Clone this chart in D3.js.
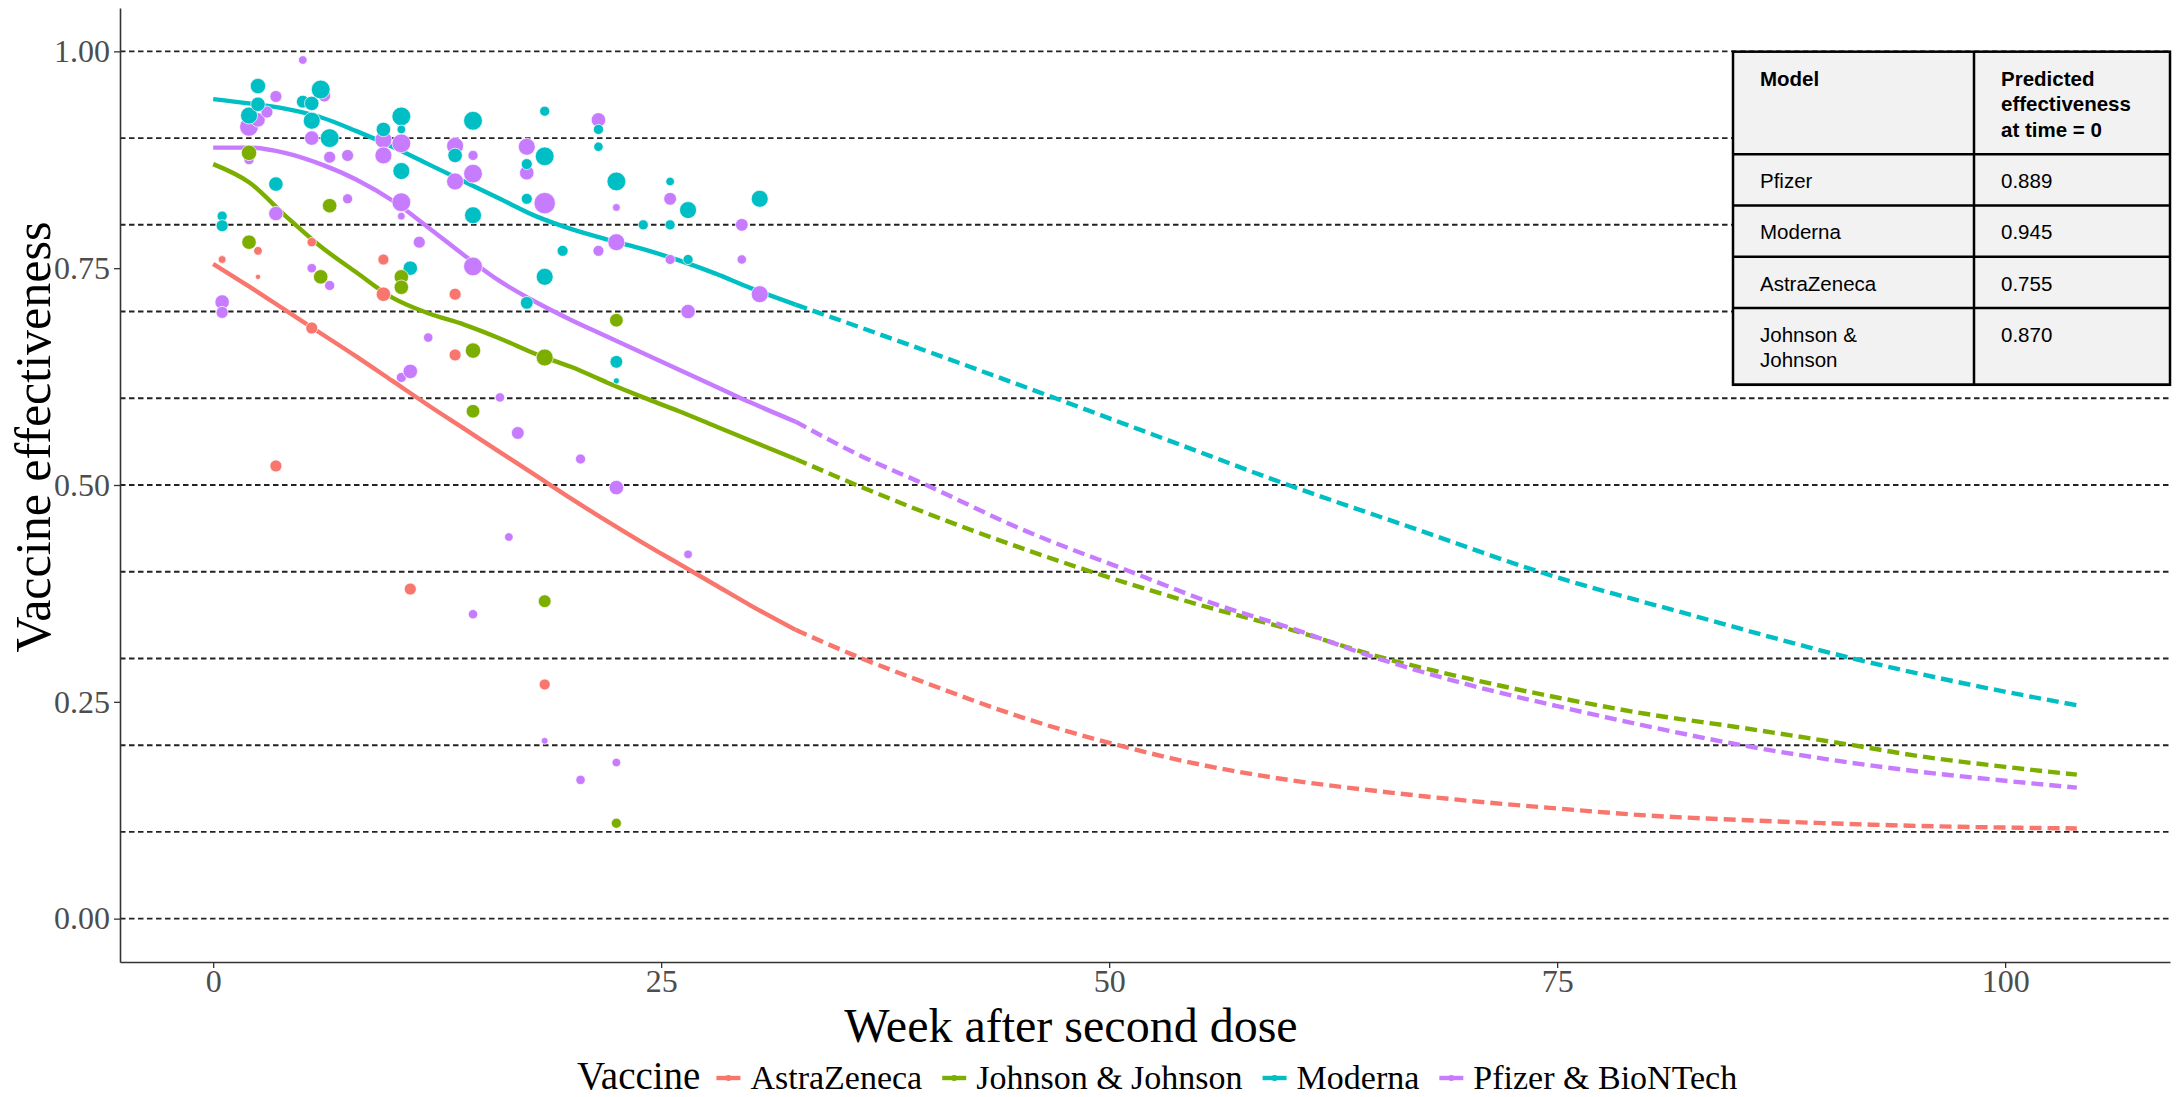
<!DOCTYPE html>
<html>
<head>
<meta charset="utf-8">
<script src="https://cdn.jsdelivr.net/npm/d3@7"></script>
<style>
  body { margin: 0; background: #fff; }
  svg { display: block; }
</style>
</head>
<body>
<svg id="chart" width="2182" height="1097"></svg>
<script>
const vaccines = ["AstraZeneca", "Johnson & Johnson", "Moderna", "Pfizer & BioNTech"];
const vaccineColors = ["#F8766D", "#7CAE00", "#00BFC4", "#C77CFF"];

// observed estimates: [week, effectiveness, study weight]
const astraPoints = [
  [0.5,0.760,13],[2.5,0.770,16],[2.5,0.740,6],[5.5,0.780,19],[5.5,0.681,31],[9.5,0.760,26],
  [9.5,0.720,45],[13.5,0.720,31],[13.5,0.650,31],[3.5,0.522,31],[11,0.380,31],[18.5,0.270,26]
];
const jjPoints = [
  [2,0.883,51],[6.5,0.822,45],[2,0.780,45],[6,0.740,45],[10.5,0.740,45],[10.5,0.728,45],
  [14.5,0.655,51],[18.5,0.647,62],[22.5,0.690,40],[14.5,0.585,40],[18.5,0.366,35],[22.5,0.110,22]
];
const modernaPoints = [
  [2.5,0.960,51],[2,0.926,62],[2.5,0.939,45],[5,0.942,35],[5.5,0.940,45],[6,0.956,76],
  [5.5,0.920,62],[6.5,0.900,76],[0.5,0.810,22],[0.5,0.799,31],[3.5,0.847,45],[9.5,0.910,45],
  [10.5,0.925,76],[10.5,0.910,16],[10.5,0.862,62],[11,0.750,45],[14.5,0.920,76],[13.5,0.880,45],
  [14.5,0.811,62],[18.5,0.931,22],[18.5,0.879,76],[17.5,0.870,26],[17.5,0.830,26],[19.5,0.770,26],
  [18.5,0.740,62],[17.5,0.710,35],[21.5,0.910,22],[21.5,0.890,19],[22.5,0.850,76],[22.5,0.642,35],
  [22.5,0.620,8],[24,0.800,22],[25.5,0.850,16],[25.5,0.800,22],[26.5,0.817,62],[26.5,0.760,22],
  [30.5,0.830,62]
];
const pfizerPoints = [
  [5,0.990,16],[3.5,0.948,31],[2,0.913,76],[2.5,0.921,45],[3,0.930,31],[2,0.875,22],
  [6.2,0.949,35],[5.5,0.900,45],[6.5,0.878,31],[7.5,0.880,31],[3.5,0.813,45],[7.5,0.830,22],
  [9.5,0.898,62],[10.5,0.894,76],[9.5,0.880,62],[10.5,0.826,76],[10.5,0.810,13],[11.5,0.780,31],
  [13.5,0.891,62],[14.5,0.880,22],[14.5,0.859,76],[13.5,0.850,62],[14.5,0.752,76],[5.5,0.750,19],
  [6.5,0.730,22],[0.5,0.711,45],[0.5,0.699,31],[12,0.670,19],[10.5,0.624,22],[11,0.631,45],
  [16,0.601,19],[17,0.560,35],[17.5,0.890,62],[17.5,0.860,45],[18.5,0.825,98],[21.5,0.921,45],
  [21.5,0.770,26],[22.5,0.780,62],[22.5,0.820,13],[25.5,0.830,35],[25.5,0.760,22],[26.5,0.700,45],
  [29.5,0.800,35],[29.5,0.760,19],[30.5,0.720,62],[20.5,0.530,22],[22.5,0.497,45],[16.5,0.440,16],
  [26.5,0.420,16],[14.5,0.351,19],[18.5,0.205,10],[22.5,0.180,16],[20.5,0.160,19]
];

// fitted model over the observed weeks, then the projection
const astraFit = [[0,0.755],[2,0.729],[4,0.702],[6,0.675],[8,0.648],[10,0.620],[12,0.592],[14,0.565],[16,0.538],[18,0.511],[20,0.484],[22,0.458],[24,0.433],[26,0.409],[28,0.385],[30,0.361],[32.5,0.333]];
const astraForecast = [[32.5,0.333],[36.2,0.300],[40,0.270],[45,0.233],[50.5,0.200],[55,0.178],[60,0.160],[65,0.147],[70,0.136],[75,0.127],[80,0.119],[85,0.114],[90,0.110],[95,0.107],[100,0.105],[104,0.104]];
const jjFit = [[0,0.870],[2,0.849],[4,0.811],[6,0.775],[8,0.745],[10,0.716],[12,0.698],[14,0.685],[16,0.669],[18,0.651],[20,0.636],[22,0.618],[24,0.601],[26,0.585],[28,0.568],[30,0.551],[32.5,0.530]];
const jjForecast = [[32.5,0.530],[35.9,0.500],[40,0.466],[45,0.428],[49,0.400],[55,0.362],[60,0.334],[65.4,0.300],[70,0.277],[75,0.255],[80,0.236],[85,0.221],[91.5,0.200],[95,0.188],[100,0.175],[104,0.166]];
const modernaFit = [[0,0.945],[2,0.940],[4,0.934],[6,0.924],[8,0.908],[10,0.890],[12,0.870],[14,0.850],[16,0.830],[18,0.810],[20,0.795],[22,0.783],[24,0.772],[26,0.759],[28,0.744],[30,0.727],[32.5,0.708]];
const modernaForecast = [[32.5,0.708],[40,0.653],[47,0.600],[53.5,0.550],[60,0.500],[67,0.450],[74,0.400],[82.5,0.350],[91.5,0.300],[98,0.270],[104,0.246]];
const pfizerFit = [[0,0.889],[2,0.889],[4,0.883],[6,0.870],[8,0.852],[10,0.828],[12,0.797],[14,0.765],[16,0.735],[18,0.711],[20,0.690],[22,0.671],[24,0.652],[26,0.633],[28,0.614],[30,0.595],[32.5,0.573]];
const pfizerForecast = [[32.5,0.573],[36,0.535],[39.8,0.500],[45,0.450],[51.2,0.400],[56,0.362],[60,0.336],[65,0.300],[70,0.270],[75,0.245],[80,0.222],[85.3,0.200],[90,0.184],[95,0.170],[100,0.159],[104,0.151]];

const hlineValues = [0, 0.1, 0.2, 0.3, 0.4, 0.5, 0.6, 0.7, 0.8, 0.9, 1.0];
const yTicks = [0, 0.25, 0.5, 0.75, 1];
const xTicks = [0, 25, 50, 75, 100];

const tableHeader = ["Model", "Predicted effectiveness at time = 0"];
const tableModels = ["Pfizer", "Moderna", "AstraZeneca", "Johnson & Johnson"];
const tableValues = ["0.889", "0.945", "0.755", "0.870"];

const svg = d3.select("#chart");
const serif = "'Liberation Serif', 'Times New Roman', serif";
const sans = "'Liberation Sans', Arial, sans-serif";

const x = d3.scaleLinear().domain([-5.2, 109.2]).range([120, 2170]);
const y = d3.scaleLinear().domain([-0.05, 1.05]).range([962, 8]);
const r = d3.scaleSqrt().domain([0, 100]).range([0, 10.8]);
const color = d3.scaleOrdinal().domain(vaccines).range(vaccineColors);

const series = [
  { name: "AstraZeneca", points: astraPoints, fit: astraFit, forecast: astraForecast },
  { name: "Johnson & Johnson", points: jjPoints, fit: jjFit, forecast: jjForecast },
  { name: "Moderna", points: modernaPoints, fit: modernaFit, forecast: modernaForecast },
  { name: "Pfizer & BioNTech", points: pfizerPoints, fit: pfizerFit, forecast: pfizerForecast }
];

// dashed reference lines
svg.append("g")
  .selectAll("line")
  .data(hlineValues)
  .enter().append("line")
    .attr("x1", x.range()[0])
    .attr("x2", x.range()[1])
    .attr("y1", d => y(d))
    .attr("y2", d => y(d))
    .attr("stroke", "#222")
    .attr("stroke-width", 1.9)
    .attr("stroke-dasharray", "5.5,3.5");

const line = d3.line()
  .x(d => x(d[0]))
  .y(d => y(d[1]))
  .curve(d3.curveMonotoneX);

const lines = svg.append("g").attr("fill", "none").attr("stroke-width", 4.4);
series.forEach(s => {
  lines.append("path")
    .attr("d", line(s.fit))
    .attr("stroke", color(s.name));
  lines.append("path")
    .attr("d", line(s.forecast))
    .attr("stroke", color(s.name))
    .attr("stroke-dasharray", "12,6");
});

// points: Pfizer first so Moderna sits on top, as in the source
const drawOrder = [3, 2, 1, 0];
const dots = svg.append("g");
drawOrder.forEach(i => {
  const s = series[i];
  dots.selectAll(null)
    .data(s.points)
    .enter().append("circle")
      .attr("cx", d => x(d[0]))
      .attr("cy", d => y(d[1]))
      .attr("r", d => r(d[2]))
      .attr("fill", color(s.name))
      .attr("stroke", "#fff")
      .attr("stroke-width", 0.7);
});

// axes
const yAxis = svg.append("g")
  .attr("transform", `translate(${x.range()[0]},0)`)
  .call(d3.axisLeft(y).tickValues(yTicks).tickFormat(d3.format(".2f")).tickSize(6).tickPadding(4).tickSizeOuter(0));
const xAxis = svg.append("g")
  .attr("transform", `translate(0,${y.range()[0]})`)
  .call(d3.axisBottom(x).tickValues(xTicks).tickFormat(d3.format("d")).tickSize(6).tickPadding(1).tickSizeOuter(0));

[yAxis, xAxis].forEach(a => {
  a.select(".domain").attr("stroke", "#333").attr("stroke-width", 1.6);
  a.selectAll(".tick line").attr("stroke", "#333").attr("stroke-width", 1.3);
  a.selectAll(".tick text")
    .attr("fill", "#4D4D4D")
    .style("font-family", serif)
    .style("font-size", "32px");
});

svg.append("text")
  .attr("x", 1071)
  .attr("y", 1042)
  .attr("text-anchor", "middle")
  .style("font-family", serif)
  .style("font-size", "48px")
  .text("Week after second dose");

svg.append("text")
  .attr("transform", "translate(50,437) rotate(-90)")
  .attr("text-anchor", "middle")
  .style("font-family", serif)
  .style("font-size", "50px")
  .text("Vaccine effectiveness");

// legend
const legend = svg.append("g").attr("transform", "translate(577,1089)");
const title = legend.append("text")
  .style("font-family", serif)
  .style("font-size", "39px")
  .text("Vaccine");
let cursor = title.node().getComputedTextLength() + 16;
vaccines.forEach(v => {
  const key = legend.append("g").attr("transform", `translate(${cursor},-11)`);
  key.append("line")
    .attr("x1", 0).attr("x2", 24)
    .attr("stroke", color(v))
    .attr("stroke-width", 4.4);
  key.append("circle")
    .attr("cx", 12).attr("r", 3)
    .attr("fill", color(v));
  const label = legend.append("text")
    .attr("x", cursor + 34)
    .style("font-family", serif)
    .style("font-size", "34px")
    .text(v);
  cursor += 34 + label.node().getComputedTextLength() + 20;
});

// inset table
const tableLeft = 1733, tableTop = 51.7;
const colWidths = [241, 196];
const lineHeight = 25.7, padX = 27, wrapWidth = 145;
const table = svg.append("g");

function wrap(textSel, str) {
  const words = str.split(" ");
  const out = [];
  let current = [];
  words.forEach(w => {
    current.push(w);
    textSel.text(current.join(" "));
    if (textSel.node().getComputedTextLength() > wrapWidth && current.length > 1) {
      current.pop();
      out.push(current.join(" "));
      current = [w];
    }
  });
  out.push(current.join(" "));
  textSel.text(null);
  return out;
}

const rows = [tableHeader].concat(tableModels.map((m, i) => [m, tableValues[i]]));
let rowTop = tableTop;
rows.forEach((row, ri) => {
  const texts = [];
  let maxLines = 1;
  row.forEach((cell, ci) => {
    const cx = tableLeft + (ci === 0 ? 0 : colWidths[0]);
    const t = table.append("text")
      .attr("x", cx + padX)
      .style("font-family", sans)
      .style("font-size", "20.5px")
      .style("font-weight", ri === 0 ? "bold" : "normal")
      .attr("fill", "#000");
    const parts = wrap(t, cell);
    maxLines = Math.max(maxLines, parts.length);
    texts.push([t, parts, cx]);
  });
  const h = 25.5 + lineHeight * maxLines;
  table.insert("rect", "text")
    .attr("x", tableLeft).attr("y", rowTop)
    .attr("width", colWidths[0] + colWidths[1]).attr("height", h)
    .attr("fill", "#F2F2F2");
  texts.forEach(([t, parts]) => {
    parts.forEach((p, k) => {
      t.append("tspan")
        .attr("x", t.attr("x"))
        .attr("y", rowTop + 33.8 + k * lineHeight)
        .text(p);
    });
  });
  table.append("line")
    .attr("x1", tableLeft).attr("x2", tableLeft + colWidths[0] + colWidths[1])
    .attr("y1", rowTop + h).attr("y2", rowTop + h)
    .attr("stroke", "#000").attr("stroke-width", 2.5);
  rowTop += h;
});
table.append("rect")
  .attr("x", tableLeft).attr("y", tableTop)
  .attr("width", colWidths[0] + colWidths[1]).attr("height", rowTop - tableTop)
  .attr("fill", "none").attr("stroke", "#000").attr("stroke-width", 2.5);
table.append("line")
  .attr("x1", tableLeft + colWidths[0]).attr("x2", tableLeft + colWidths[0])
  .attr("y1", tableTop).attr("y2", rowTop)
  .attr("stroke", "#000").attr("stroke-width", 2.5);
</script>
</body>
</html>
